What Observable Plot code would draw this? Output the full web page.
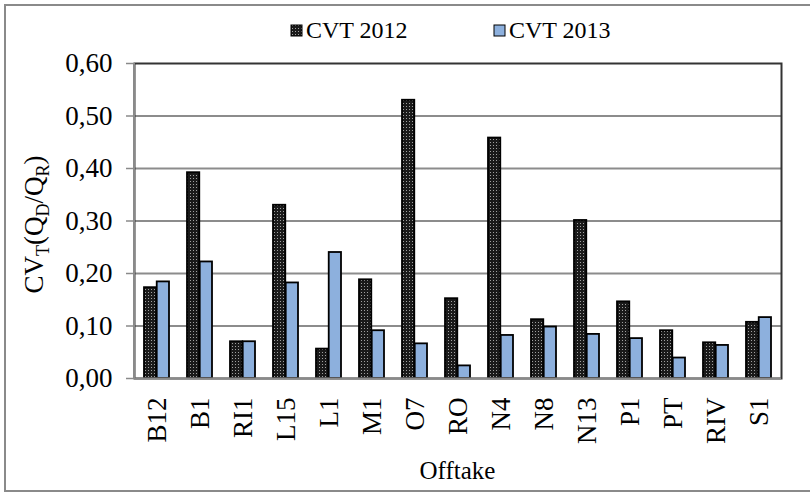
<!DOCTYPE html>
<html>
<head>
<meta charset="utf-8">
<script src="https://cdn.jsdelivr.net/npm/d3@7"></script>
<script src="https://cdn.jsdelivr.net/npm/@observablehq/plot@0.6"></script>
<style>
  html, body { margin: 0; padding: 0; background: #fff; }
  svg { display: block; }
</style>
</head>
<body>
<div id="chart"></div>
<script>
const categories = ["B12","B1","RI1","L15","L1","M1","O7","RO","N4","N8","N13","P1","PT","RIV","S1"];
const cvt2012 = [0.173,0.392,0.070,0.330,0.056,0.188,0.530,0.152,0.458,0.112,0.301,0.146,0.091,0.068,0.107];
const cvt2013 = [0.184,0.222,0.070,0.182,0.240,0.091,0.066,0.024,0.082,0.098,0.084,0.076,0.039,0.063,0.116];
const seriesNames = ["CVT 2012","CVT 2013"];
const yTicks = [0,0.1,0.2,0.3,0.4,0.5,0.6];
const gridTicks = [0.1,0.2,0.3,0.4,0.5];
const xTitle = "Offtake";

const W = 810, H = 493, ML = 134, MR = 29, MT = 63, MB = 115;
const FONT = "Liberation Serif, Times New Roman, serif";
const fill2013 = "#8DB0DD";

const rows2012 = categories.map((c, i) => ({offtake: c, series: seriesNames[0], value: cvt2012[i]}));
const rows2013 = categories.map((c, i) => ({offtake: c, series: seriesNames[1], value: cvt2013[i]}));

const xOpts = {type: "band", domain: categories, range: [ML, W - MR], paddingInner: 0.41, paddingOuter: 0.205};
const half = Plot.scale({x: xOpts}).bandwidth / 2;
const fmt = d => d.toFixed(2).replace(".", ",");

const svg = Plot.plot({
  width: W, height: H,
  marginLeft: ML, marginRight: MR, marginTop: MT, marginBottom: MB,
  style: {fontFamily: FONT, fontSize: "26px", color: "black", background: "white", overflow: "visible"},
  x: {domain: categories, paddingInner: 0.41, paddingOuter: 0.205, label: null},
  y: {domain: [0, 0.6], label: null},
  marks: [
    Plot.gridY(gridTicks, {stroke: "#8c8c8c", strokeOpacity: 1, strokeWidth: 2}),
    Plot.barY(rows2012, {x: "offtake", y: "value", fill: "url(#dots2012)", stroke: "black", strokeWidth: 1.8, insetRight: half}),
    Plot.barY(rows2013, {x: "offtake", y: "value", fill: fill2013, stroke: "black", strokeWidth: 1.8, insetLeft: half}),
    Plot.frame({stroke: "#333", strokeWidth: 2}),
    Plot.ruleY([0], {stroke: "#8a8a8a", strokeWidth: 2}),
    Plot.axisY(yTicks, {tickFormat: fmt, tickSize: 8, tickPadding: 14, stroke: "#8a8a8a", strokeWidth: 1.5, fill: "black", fontSize: 27, label: null}),
    Plot.axisX({tickRotate: -90, tickSize: 0, tickPadding: 19, fill: "black", fontSize: 27, label: null})
  ]
});

const s = d3.select(svg);
const defs = s.insert("defs", ":first-child");
const pat = defs.append("pattern").attr("id", "dots2012").attr("patternUnits", "userSpaceOnUse")
  .attr("width", 3).attr("height", 3);
pat.append("rect").attr("width", 3).attr("height", 3).attr("fill", "#1a1a1a");
pat.append("rect").attr("x", 1).attr("y", 1).attr("width", 1).attr("height", 1).attr("fill", "#a0a0a0");

// left axis line (gray)
s.append("line").attr("x1", ML).attr("x2", ML).attr("y1", MT).attr("y2", H - MB)
  .attr("stroke", "#8a8a8a").attr("stroke-width", 2);

// outer chart border
s.append("rect").attr("x", 5).attr("y", 5).attr("width", W).attr("height", 486)
  .attr("fill", "none").attr("stroke", "#8a8a8a").attr("stroke-width", 2);

// y-axis title with subscripts
const yt = s.append("text")
  .attr("transform", `translate(43,${(MT + H - MB) / 2 + 4}) rotate(-90)`)
  .attr("text-anchor", "middle")
  .attr("font-family", FONT).attr("font-size", 27).attr("fill", "black");
yt.append("tspan").text("CV");
yt.append("tspan").attr("dy", 6).attr("font-size", 18).text("T");
yt.append("tspan").attr("dy", -6).text("(Q");
yt.append("tspan").attr("dy", 6).attr("font-size", 18).text("D");
yt.append("tspan").attr("dy", -6).text("/Q");
yt.append("tspan").attr("dy", 6).attr("font-size", 18).text("R");
yt.append("tspan").attr("dy", -6).text(")");

// x-axis title
s.append("text").attr("x", (ML + W - MR) / 2).attr("y", 479)
  .attr("text-anchor", "middle").attr("font-family", FONT).attr("font-size", 25)
  .attr("fill", "black").text(xTitle);

// legend
const legendItems = [
  {name: seriesNames[0], fill: "url(#dots2012)", x: 291},
  {name: seriesNames[1], fill: fill2013, x: 494}
];
const lg = s.append("g").attr("text-anchor", "start");
legendItems.forEach(it => {
  lg.append("rect").attr("x", it.x).attr("y", 25).attr("width", 11).attr("height", 11)
    .attr("fill", it.fill).attr("stroke", "black").attr("stroke-width", 1);
  lg.append("text").attr("x", it.x + 15).attr("y", 38)
    .attr("text-anchor", "start")
    .attr("font-family", FONT).attr("font-size", 24).attr("fill", "black").text(it.name);
});

document.getElementById("chart").appendChild(svg);
</script>
</body>
</html>
